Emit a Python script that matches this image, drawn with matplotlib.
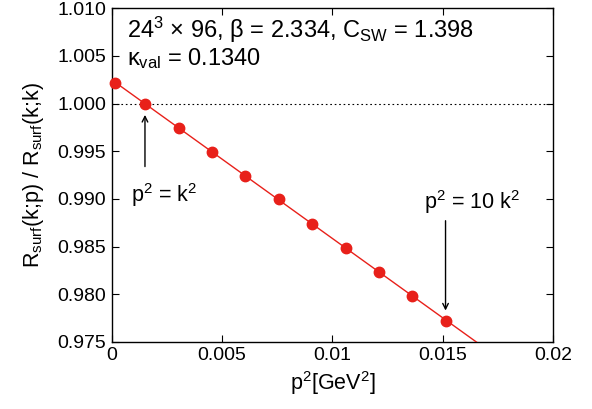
import matplotlib.pyplot as plt
import numpy as np

plt.rcParams["font.family"] = ["Liberation Sans", "DejaVu Sans"]
plt.rcParams["mathtext.fontset"] = "custom"
plt.rcParams["mathtext.rm"] = "Liberation Sans"
plt.rcParams["mathtext.it"] = "Liberation Sans"
plt.rcParams["mathtext.sf"] = "Liberation Sans"

# data
p2 = [0.000136, 0.0015, 0.003025, 0.004535, 0.006046, 0.00757,
      0.00908, 0.0106, 0.0121, 0.01363, 0.01513]
ratio = [1.00217, 1.0000, 0.99746, 0.99494, 0.99243, 0.98995,
         0.98740, 0.98488, 0.98237, 0.97982, 0.97723]

xticks = [0, 0.005, 0.01, 0.015, 0.02]
xticklabels = ["0", "0.005", "0.01", "0.015", "0.02"]
yticks = [0.975, 0.980, 0.985, 0.990, 0.995, 1.000, 1.005, 1.010]

red = "#e8201a"
fs_tick = 14
fs_lab = 15.5
fs_title = 17


def main():
    fig = plt.figure(figsize=(5.92, 4.09), dpi=100)
    ax = fig.add_axes([0.189, 0.164, 0.745, 0.816])

    ax.set_xlim(0, 0.02)
    ax.set_ylim(0.975, 1.010)
    ax.set_xticks(xticks)
    ax.set_xticklabels(xticklabels)
    ax.set_yticks(yticks)
    ax.set_yticklabels(["%.3f" % v for v in yticks])
    ax.tick_params(direction="in", top=True, right=True, length=5,
                   width=0.8, labelsize=fs_tick, pad=4)
    for s in ax.spines.values():
        s.set_linewidth(1.0)

    # reference line at 1
    ax.axhline(1.0, color="black", linestyle=(0, (1.5, 2.5)), linewidth=0.8)

    # linear fit through the points
    fit = np.polyfit(p2, ratio, 1)
    xf = np.array([p2[0], 0.02])
    ax.plot(xf, np.polyval(fit, xf), "-", color=red, linewidth=1.0, zorder=3)
    ax.plot(p2, ratio, "o", color=red, markersize=7.5, zorder=4, clip_on=False)

    ax.annotate("", xy=(p2[1], 0.9991), xytext=(p2[1], 0.9931),
                arrowprops=dict(arrowstyle="->", color="black", lw=1.0))
    ax.text(0.00235, 0.9897, r"p$^2$ = k$^2$", fontsize=fs_lab, ha="center",
            va="baseline")
    ax.annotate("", xy=(p2[-1], 0.9780), xytext=(p2[-1], 0.9880),
                arrowprops=dict(arrowstyle="->", color="black", lw=1.0))
    ax.text(0.01633, 0.9889, r"p$^2$ = 10 k$^2$", fontsize=fs_lab, ha="center",
            va="baseline")

    ax.text(0.00068, 1.0069, r"24$^3$ $\times$ 96, $\beta$ = 2.334, C$_{\rm SW}$ = 1.398",
            fontsize=fs_title, ha="left", va="baseline")
    ax.text(0.00068, 1.0040, r"$\kappa_{\rm val}$ = 0.1340",
            fontsize=fs_title, ha="left", va="baseline")

    ax.set_xlabel(r"p$^2$[GeV$^2$]", fontsize=fs_lab, labelpad=3)
    ax.set_ylabel(r"R$_{\rm surf}$(k;p) / R$_{\rm surf}$(k;k)", fontsize=fs_lab,
                  labelpad=8)

    plt.savefig("out.png", dpi=100)


if __name__ == "__main__":
    main()
